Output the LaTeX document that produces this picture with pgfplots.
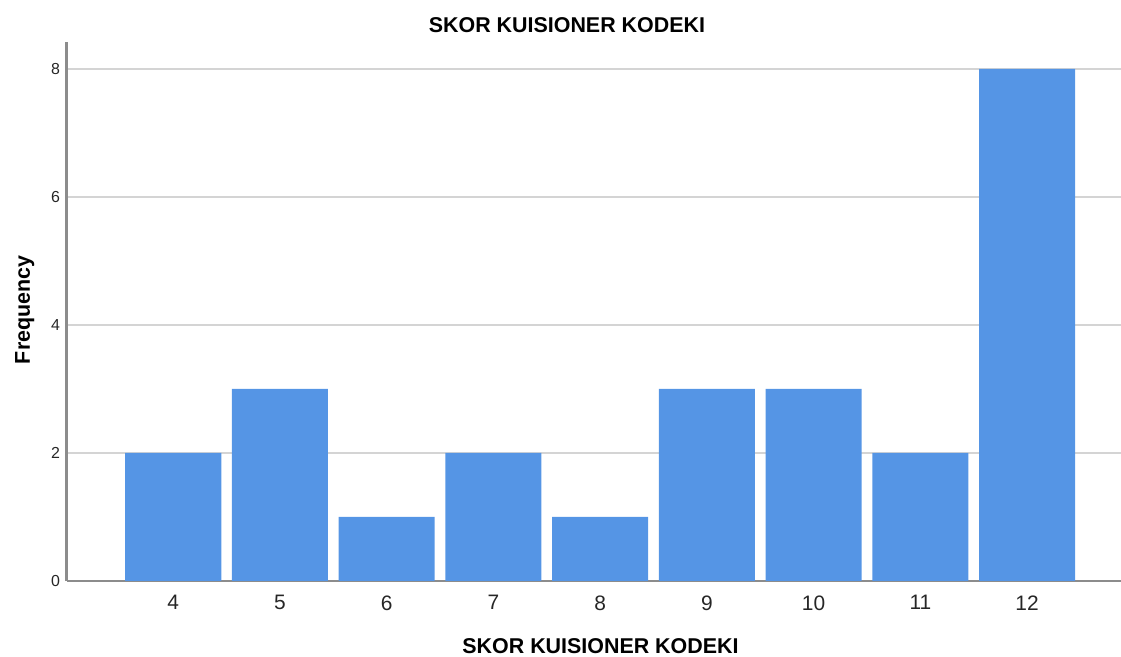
\documentclass[border=0pt]{standalone}
\usepackage{pgfplots}
\pgfplotsset{compat=1.18}
\usepackage{fontspec}
\setmainfont{Liberation Sans}
\definecolor{barblue}{HTML}{5595E5}
\definecolor{gridgray}{HTML}{D4D4D4}
\definecolor{axisgray}{HTML}{8C8C8C}
\begin{document}
\begin{tikzpicture}
\useasboundingbox (0,0) rectangle (1121bp,657bp);
\begin{axis}[
  at={(66.5bp,76bp)}, anchor=south west,
  scale only axis, width=1054.5bp, height=539bp,
  xmin=-1, xmax=8.88, ymin=0, ymax=8.42,
  axis x line*=bottom, axis y line*=left,
  axis line style={draw=axisgray, line width=2bp, -},
  xtick={0,1,2,3,4,5,6,7,8},
  xticklabels={4,5,6,7,8,9,10,11,12},
  ytick={0,2,4,6,8},
  ymajorgrids,
  grid style={draw=gridgray, line width=1.6bp},
  major tick length=0pt,
  xticklabel style={font=\fontsize{21}{21}\selectfont, text=black!85, yshift=-11bp},
  yticklabel style={font=\fontsize{16}{16}\selectfont, text=black!85, xshift=-3bp},
  /pgf/number format/assume math mode=true,
  title={SKOR KUISIONER KODEKI},
  title style={font=\bfseries\fontsize{21.5}{24}\selectfont, at={(0.4746,1)}, anchor=base, yshift=4bp},
  xlabel={SKOR KUISIONER KODEKI},
  xlabel style={font=\bfseries\fontsize{21.5}{24}\selectfont, at={(0.5064,0)}, anchor=base, yshift=-72bp},
  ylabel={Frequency},
  ylabel style={font=\bfseries\fontsize{21.5}{24}\selectfont, at={(0,0.503)}, anchor=base, yshift=36.5bp},
  ybar, bar width=0.9,
]
\addplot[fill=barblue, draw=none] coordinates {
(0,2) (1,3) (2,1) (3,2) (4,1) (5,3) (6,3) (7,2) (8,8)
};
\end{axis}
\end{tikzpicture}
\end{document}
